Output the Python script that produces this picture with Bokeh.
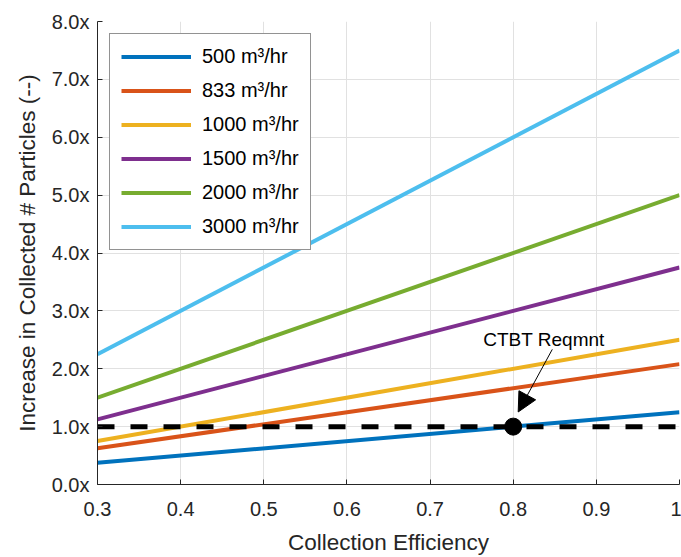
from bokeh.plotting import figure
from bokeh.models import (ColumnDataSource, FixedTicker, PrintfTickFormatter, Legend,
                          LegendItem, Arrow, NormalHead)
from bokeh.core.properties import value
from bokeh.embed import file_html
from bokeh.resources import INLINE

# ---- data ----
efficiency = [0.3, 1.0]
flow_labels = ["500 m³/hr", "833 m³/hr", "1000 m³/hr", "1500 m³/hr", "2000 m³/hr", "3000 m³/hr"]
increase_500 = [0.375, 1.25]
increase_833 = [0.625, 2.08]
increase_1000 = [0.75, 2.5]
increase_1500 = [1.125, 3.75]
increase_2000 = [1.5, 5.0]
increase_3000 = [2.25, 7.5]
series = [increase_500, increase_833, increase_1000, increase_1500, increase_2000, increase_3000]
colors = ["#0072BD", "#D95319", "#EDB120", "#7E2F8E", "#77AC30", "#4DBEEE"]

requirement_level = [1.0, 1.0]
req_point_x = [0.8]
req_point_y = [1.0]
annot_text = "CTBT Reqmnt"
annot_text_pos = (0.764, 2.5)
annot_arrow_start = (0.847, 2.335)
annot_arrow_end = (0.806, 1.253)

x_ticks = [0.3, 0.4, 0.5, 0.6, 0.7, 0.8, 0.9, 1.0]
x_tick_labels = ["0.3", "0.4", "0.5", "0.6", "0.7", "0.8", "0.9", "1"]
y_ticks = [0, 1, 2, 3, 4, 5, 6, 7, 8]

FONT = "Liberation Sans"
TXT = "#262626"

p = figure(width=681, height=557, x_range=(0.3, 1.0), y_range=(0, 8),
           output_backend="svg", toolbar_location=None,
           min_border_left=97, min_border_right=2, min_border_top=21, min_border_bottom=71)
p.outline_line_color = None
p.background_fill_color = "white"

# grid
for g in (p.xgrid, p.ygrid):
    g.grid_line_color = "#e1e1e1"
    g.grid_line_width = 1

# axes
p.xaxis.ticker = FixedTicker(ticks=x_ticks)
p.xaxis.major_label_overrides = {t: l for t, l in zip(x_ticks, x_tick_labels)}
p.yaxis.ticker = FixedTicker(ticks=y_ticks)
p.yaxis.formatter = PrintfTickFormatter(format="%.1fx")
p.xaxis.axis_label = "Collection Efficiency"
p.yaxis.axis_label = "Increase in Collected # Particles (--)"
for ax in (p.xaxis[0], p.yaxis[0]):
    ax.axis_line_color = TXT
    ax.axis_line_width = 1
    ax.major_tick_line_color = TXT
    ax.major_tick_in = 5
    ax.major_tick_out = 0
    ax.minor_tick_line_color = None
    ax.major_label_text_font = FONT
    ax.major_label_text_font_size = "20px"
    ax.major_label_text_color = TXT
    ax.axis_label_text_font = FONT
    ax.axis_label_text_font_size = "22.5px"
    ax.axis_label_text_font_style = "normal"
    ax.axis_label_text_color = TXT
p.xaxis.major_label_standoff = 17
p.xaxis.axis_label_standoff = 11
p.yaxis.major_label_standoff = 8
p.yaxis.axis_label_standoff = 9

# lines
items = []
for lab, ys, c in zip(flow_labels, series, colors):
    src = ColumnDataSource(dict(x=efficiency, y=ys))
    r = p.line("x", "y", source=src, line_color=c, line_width=4)
    items.append(LegendItem(label=lab, renderers=[r]))

# requirement dashed line
p.line(efficiency, requirement_level, line_color="black", line_width=5, line_dash="17 16")
p.scatter(req_point_x, req_point_y, size=17, fill_color="black", line_color="black")

# annotation
p.add_layout(Arrow(end=NormalHead(size=19, fill_color="black", line_color="black"),
                   x_start=annot_arrow_start[0], y_start=annot_arrow_start[1],
                   x_end=annot_arrow_end[0], y_end=annot_arrow_end[1],
                   line_color="black", line_width=1))
p.text(x=[annot_text_pos[0]], y=[annot_text_pos[1]], text=[annot_text],
       text_font=value(FONT), text_font_size="19px", text_color="black",
       text_baseline="alphabetic", text_align="left")

legend = Legend(items=items, location="top_left", margin=12, padding=11,
                glyph_width=70, glyph_height=21, spacing=11, label_standoff=11,
                label_text_font=FONT, label_text_font_size="20px", label_text_color="black",
                border_line_color=TXT, border_line_width=1,
                background_fill_color="white", background_fill_alpha=1)
p.add_layout(legend)

open("out.html", "w").write(file_html(p, INLINE))
